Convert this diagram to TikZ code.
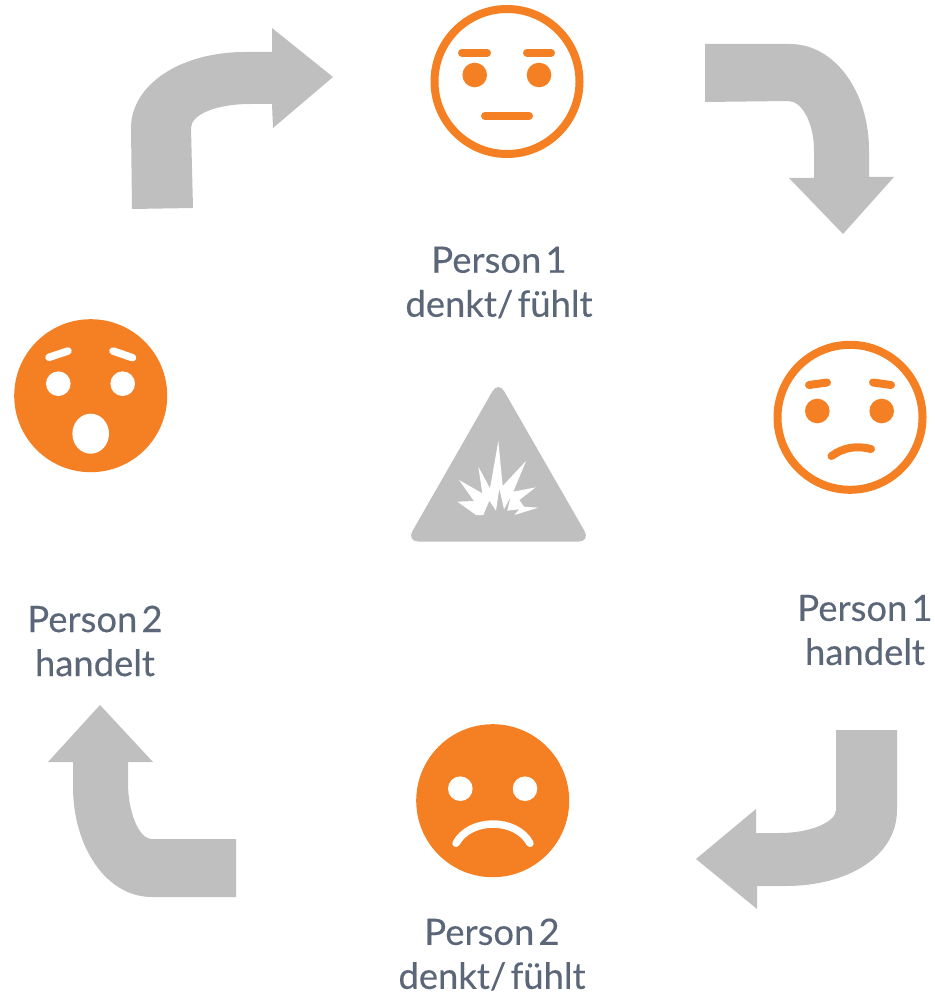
\documentclass[tikz,border=0pt]{standalone}
\usepackage{fontspec}
\setmainfont[WordSpace=0.45,FakeBold=0.25]{Lato}
\definecolor{arrowgray}{HTML}{BFBFBF}
\definecolor{faceorange}{HTML}{F58024}
\definecolor{textslate}{HTML}{5B6778}
\tikzset{
  bigarrow/.style={fill=arrowgray},
  ringface/.style={circle, draw=faceorange, line width=8pt, minimum size=145pt, inner sep=0pt, outer sep=0pt},
  fullface/.style={circle, fill=faceorange, minimum size=153pt, inner sep=0pt, outer sep=0pt},
  orangeline/.style={draw=faceorange, line width=8pt, line cap=round},
  whiteline/.style={draw=white, line width=7.5pt, line cap=round},
  caption/.style={text=textslate, align=center, font=\fontsize{36.4}{44}\selectfont}
}
\begin{document}
\begin{tikzpicture}[x=1pt,y=-1pt]
\useasboundingbox (0,0) rectangle (934,995);
% arrows
\fill[bigarrow] (132,209) -- (131,128) .. controls (131,85) and (180,52) .. (245,52) -- (272,52) -- (272,28) -- (333,77) -- (273,128) -- (272,104) -- (250,104) .. controls (215,104) and (191,115) .. (191,128) -- (193,208) -- cycle;
\fill[bigarrow] (705,44) -- (790,44) .. controls (835,44) and (869,92) .. (869,150) -- (869,177) -- (894,177) -- (843,234) -- (789,178) -- (814,178) -- (814,150) .. controls (814,125) and (803,101) .. (788,101) -- (705,102) -- cycle;
\fill[bigarrow] (836,730) -- (897,730) -- (897,810) .. controls (897,855) and (850,886) .. (785,886) -- (757,886) -- (757,909) -- (696,859) -- (756,809) -- (756,833) -- (780,833) .. controls (810,833) and (836,822) .. (836,810) -- cycle;
\fill[bigarrow] (236,839) -- (236,897) -- (152,897) .. controls (105,897) and (73,845) .. (73,787) -- (73,762) -- (48,762) -- (100,705) -- (153,762) -- (128,762) -- (128,783) .. controls (128,810) and (138,839) .. (152,839) -- cycle;
% warning sign
\fill[arrowgray, rounded corners=12pt] (498.3,381) -- (590.5,541.5) -- (406.5,541.5) -- cycle;
\begin{scope}[shift={(400,380)},scale=1/3]
\fill[white] (172,365) -- (222,363) -- (177,300) -- (247,340) -- (235,260) -- (270,325) -- (295,183) -- (308,318) -- (378,243) -- (340,335) -- (407,322) -- (358,360) -- (372,380) -- (415,383) -- (343,405) -- (358,388) -- (322,392) -- (332,350) -- (312,388) -- (298,325) -- (288,392) -- (268,362) -- (250,405) -- (228,405) -- cycle;
\end{scope}
% person 1 thinks
\node[ringface] (faceThink) at (507,81.5) {};
\foreach \ex in {474.7,539} \fill[faceorange] (\ex,75) circle (12.3pt);
\draw[orangeline] (462,52.7) -- (487,52.7);
\draw[orangeline] (527,52.7) -- (551,52.7);
\draw[orangeline] (485,115.7) -- (529,115.7);
% person 1 acts
\node[ringface] (faceAct) at (850,417.3) {};
\foreach \ex in {817.3,881.7} \fill[faceorange] (\ex,411) circle (12.3pt);
\draw[orangeline] (809,385) -- (827,382.5);
\draw[orangeline] (873,382.5) -- (891,385);
\draw[orangeline] (831.5,456) .. controls (844,447) and (857,445.5) .. (871,449);
% person 2 thinks
\node[fullface] (faceSad) at (492.7,800.7) {};
\foreach \ex in {460.3,525} \fill[white] (\ex,788.7) circle (12.3pt);
\draw[whiteline] (456,843.3) .. controls (470,817.6) and (516,817.6) .. (530,843.3);
% person 2 acts
\node[fullface] (faceShock) at (90.7,395.7) {};
\foreach \ex in {58.3,122.7} \fill[white] (\ex,383.7) circle (12.3pt);
\draw[whiteline] (49,357.3) -- (68,351);
\draw[whiteline] (113,351) -- (132.5,357.7);
\fill[white] (90.7,433.7) ellipse (18.3pt and 20pt);
% captions
\node[caption] (capThink) at (499,282.5) {Person 1\\denkt/ fühlt};
\node[caption] (capAct) at (865,630) {Person 1\\handelt};
\node[caption] (capSad) at (492,954.5) {Person 2\\denkt/ fühlt};
\node[caption] (capShock) at (95,641) {Person 2\\handelt};
\end{tikzpicture}
\end{document}
